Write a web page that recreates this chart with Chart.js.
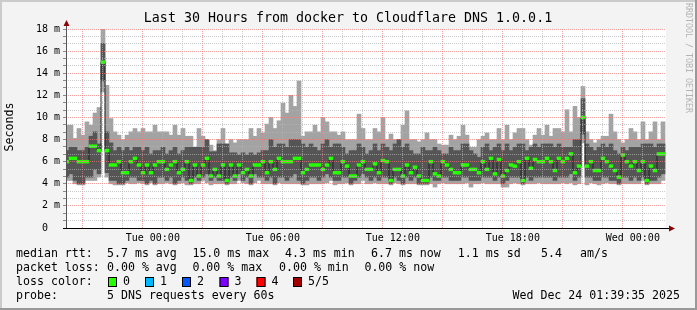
<!DOCTYPE html>
<html><head><meta charset="utf-8">
<script src="https://cdn.jsdelivr.net/npm/chart.js@4/dist/chart.umd.min.js"></script>
<style>html,body{margin:0;padding:0;background:#f3f3f3;overflow:hidden}canvas{display:block}</style>
</head><body>
<canvas id="c" width="697" height="310"></canvas>
<script>
// ---- data (ms), one value per 12-minute step, oldest first ----
const medianMs = [
6.0,6.3,6.3,6.0,6.0,6.0,7.4,7.4,7.0,15.0,
7.0,5.7,5.7,6.0,5.0,5.0,6.0,6.3,5.7,5.0,
5.7,5.0,5.7,6.0,6.0,5.3,5.7,6.0,5.0,5.3,
6.0,4.3,5.7,4.7,5.7,6.3,4.7,5.3,4.7,5.7,
4.3,5.7,4.7,5.7,5.0,5.3,4.7,5.7,5.7,6.0,
5.0,6.0,5.3,6.3,6.0,6.0,6.0,6.3,6.3,5.0,
5.3,5.7,5.7,5.7,5.3,5.7,6.3,5.0,5.0,6.0,
5.6,4.7,4.7,5.7,6.0,5.3,5.3,5.8,5.0,6.1,
6.0,4.3,5.3,5.3,4.7,5.7,5.0,5.5,4.7,4.3,
4.3,6.0,4.9,4.7,6.0,5.7,5.3,5.0,5.0,5.7,
5.7,5.3,5.3,5.0,6.0,5.3,6.3,4.9,6.2,4.7,
5.2,5.7,5.6,6.0,4.3,6.3,5.4,6.2,6.0,6.0,
6.3,6.0,5.2,6.3,6.0,6.3,6.7,5.0,5.6,10.0,
5.6,6.0,5.2,5.2,6.3,6.0,5.6,5.2,4.6,6.6,
6.0,5.6,6.0,5.2,6.0,4.3,5.6,5.2,6.7,6.7];
const maxMs = [
9.3,9.3,8.1,9.0,8.4,9.6,9.3,10.4,10.9,18.0,
12.9,9.9,8.7,8.4,8.0,8.4,8.7,9.0,8.7,9.0,
8.7,8.7,9.3,8.7,8.7,8.7,8.4,9.3,8.4,9.0,
8.3,8.3,7.3,9.0,8.3,8.0,7.5,7.0,8.0,9.0,
7.6,8.0,7.7,8.0,8.0,8.0,9.0,8.3,9.0,8.6,
9.4,10.0,9.0,9.7,11.3,10.4,12.0,11.0,13.3,8.3,
8.7,8.7,9.3,8.7,10.0,9.6,8.7,8.7,8.4,8.7,
8.0,8.0,8.0,10.3,9.0,8.0,8.0,9.0,8.7,10.0,
8.0,8.5,8.0,8.0,9.3,10.6,8.0,8.0,7.8,8.0,
8.6,8.0,8.0,7.6,7.5,7.5,8.4,8.0,8.3,9.3,
8.4,7.3,7.3,8.0,8.3,8.6,8.0,8.0,9.0,8.0,
9.3,8.0,8.6,9.0,9.0,8.0,7.5,8.4,9.0,8.4,
9.3,8.3,9.0,9.0,8.7,10.7,8.7,11.0,10.0,12.8,
8.7,8.0,7.7,8.0,8.3,8.3,10.3,8.7,8.0,7.7,
8.0,9.0,8.7,8.0,9.6,8.0,8.7,9.6,8.0,9.6];
const upperMs = [
7.0,7.3,7.3,7.0,7.0,7.3,8.3,8.7,7.6,16.7,
8.7,7.7,7.0,7.3,7.0,7.3,7.0,7.3,7.3,7.0,
7.3,6.7,7.0,7.0,7.3,6.7,7.0,7.3,6.7,7.0,
7.3,7.3,7.3,7.3,7.3,8.0,6.9,6.9,7.6,7.6,
7.6,6.8,6.8,6.6,6.8,6.6,6.8,6.6,6.8,7.0,
7.0,8.0,7.3,7.6,7.6,7.3,8.0,8.0,8.0,7.6,
7.3,7.6,7.3,7.0,7.6,8.0,7.3,7.6,7.6,7.3,
6.7,7.0,7.0,7.6,7.3,6.7,7.0,7.6,7.0,7.6,
7.3,7.0,7.6,8.0,7.3,7.6,7.0,6.7,6.7,7.3,
7.0,7.0,7.3,7.0,6.7,6.7,7.3,7.0,7.0,7.6,
7.6,7.0,6.7,6.4,7.3,7.6,7.0,7.3,7.6,7.0,
7.6,7.0,7.3,7.6,7.6,7.0,7.3,7.6,7.3,7.6,
7.6,7.6,7.3,7.6,7.3,7.3,7.3,8.0,8.0,11.7,
7.6,7.3,7.0,7.3,7.6,7.3,7.6,7.0,6.7,7.3,
7.0,7.3,7.3,7.3,7.6,7.6,7.6,7.3,7.6,7.6];
const lowerMs = [
4.6,4.9,4.3,4.0,4.0,4.6,4.6,5.3,4.9,13.3,
5.0,4.3,4.3,4.0,4.0,4.3,4.6,4.6,4.3,4.3,
4.0,4.3,4.0,4.6,4.6,4.3,4.6,4.0,4.3,4.6,
4.3,4.0,4.6,4.3,4.6,4.9,4.3,4.6,4.3,4.3,
4.0,4.6,4.3,4.9,4.3,4.6,4.0,4.9,4.6,4.6,
4.3,4.6,4.0,4.6,4.6,4.3,4.6,4.9,4.3,4.0,
4.3,4.6,4.6,4.3,4.6,4.9,4.6,4.3,4.3,4.6,
4.6,4.0,4.3,4.6,4.9,4.6,4.3,4.6,4.3,4.6,
4.6,4.0,4.6,4.3,4.0,4.6,4.3,4.6,4.0,4.0,
4.0,4.6,4.3,4.3,4.6,4.6,4.3,4.3,4.3,4.6,
4.6,4.3,4.3,4.3,4.6,4.6,4.6,4.3,4.6,4.0,
4.3,4.6,4.6,4.6,4.0,4.6,4.3,4.6,4.6,4.6,
4.6,4.6,4.3,4.6,4.6,4.6,4.9,4.3,4.6,8.5,
4.6,4.6,4.3,4.3,4.6,4.6,4.3,4.3,4.0,4.6,
4.6,4.3,4.6,4.3,4.6,4.0,4.3,4.3,4.6,4.9];
const minMs = [
4.3,4.3,4.0,3.9,3.9,4.3,4.3,4.3,4.6,12.3,
4.6,4.0,3.9,3.9,3.9,4.1,4.0,4.0,4.1,4.0,
3.9,4.1,3.9,4.0,4.0,4.1,4.0,3.9,4.0,4.1,
3.9,3.9,4.0,4.0,4.3,4.1,3.9,4.0,4.0,4.0,
3.9,4.0,4.0,4.3,4.1,4.0,3.9,4.1,4.3,4.0,
4.0,4.0,3.9,4.1,4.0,4.0,4.0,4.0,4.0,3.9,
3.9,4.0,4.0,4.0,4.0,4.1,4.3,3.9,4.0,4.0,
4.1,3.9,4.0,4.0,4.3,4.0,4.0,4.1,4.0,4.0,
4.0,3.9,4.1,4.0,3.9,4.0,4.0,4.0,3.9,3.9,
3.9,4.0,3.7,4.0,4.1,4.0,4.0,4.0,4.0,4.0,
4.1,3.7,4.0,4.0,4.1,4.0,4.0,4.0,4.0,3.7,
3.7,4.0,4.1,4.0,3.9,4.0,4.0,4.0,4.1,4.0,
4.0,4.0,4.0,4.0,4.1,4.0,4.1,3.9,4.0,7.7,
3.9,4.1,4.0,3.9,4.0,4.1,4.0,4.0,3.9,4.0,
4.0,4.0,4.0,4.0,4.3,3.9,4.0,4.0,4.0,4.3];

// ---- time axis (hours after the graph start, Mon 19:39:35) ----
const spanHours = 30;
const stepHours = 0.2;          // 12 min
const firstStepHour = 0.05;     // centre of first step
const stepTimes = medianMs.map((_, i) => firstStepHour + i * stepHours);
const firstFullHour = (60 - 39 - 35 / 60) / 60; // 20:00
const firstClockHour = 20;
const hourTicks = Array.from({length: 30}, (_, k) => firstFullHour + k);
const dayNames = ['Mon', 'Tue', 'Wed'];
const xLabelEveryHours = 6, xMajorEveryHours = 3;

const yMax = 18, yMinorStep = 2 / 3, yMajorStep = 2;
const yTicks = Array.from({length: 28}, (_, k) => k * yMinorStep);

const titleText = 'Last 30 Hours from docker to Cloudflare DNS 1.0.0.1';
const legendRows = [
  [['median rtt:', 16], ['5.7 ms avg', 107], ['15.0 ms max', 192.4], ['4.3 ms min', 285], ['6.7 ms now', 371], ['1.1 ms sd', 457.8], ['5.4', 541], ['am/s', 580]],
  [['packet loss:', 16], ['0.00 % avg', 107], ['0.00 % max', 192.4], ['0.00 % min', 279], ['0.00 % now', 364.4]],
  [['loss color:', 16]],
  [['probe:', 16], ['5 DNS requests every 60s', 107]]
];
const lossColors = [['0', '#26ff00'], ['1', '#00b8ff'], ['2', '#0059ff'], ['3', '#7e00ff'], ['4', '#ff0000'], ['5/5', '#a10000']];
const lossBoxX = [108, 145, 182, 219.5, 256.5, 293];
const stampText = 'Wed Dec 24 01:39:35 2025';

const MONO = '"DejaVu Sans Mono", monospace';
const MAJOR = 'rgba(235,120,120,0.7)', MINOR = 'rgba(180,180,180,0.7)';
const isMult = (v, s) => Math.abs(v / s - Math.round(v / s)) < 1e-6;
const clockOf = (h) => Math.round(firstClockHour + (h - firstFullHour));

const deco = {
  id: 'deco',
  beforeDraw(c) {
    const g = c.ctx, a = c.chartArea;
    g.save();
    g.fillStyle = '#f3f3f3'; g.fillRect(0, 0, 697, 310);
    g.fillStyle = '#ffffff'; g.fillRect(a.left, a.top, a.right - a.left, a.bottom - a.top);
    g.restore();
  },
  afterDraw(c) {
    const g = c.ctx, a = c.chartArea;
    g.save();
    g.fillStyle = '#555555'; g.fillRect(a.left, a.top - 4, 1, a.bottom - a.top + 5);
    g.fillStyle = '#000000'; g.fillRect(a.left - 3, a.bottom, a.right - a.left + 8, 1);
    g.fillStyle = '#8b0000';
    g.beginPath(); g.moveTo(a.left + 0.5, a.top - 9); g.lineTo(a.left - 2.5, a.top - 3); g.lineTo(a.left + 3.5, a.top - 3); g.closePath(); g.fill();
    g.beginPath(); g.moveTo(a.right + 9, a.bottom + 0.5); g.lineTo(a.right + 3, a.bottom - 2.5); g.lineTo(a.right + 3, a.bottom + 3.5); g.closePath(); g.fill();

    g.fillStyle = '#000'; g.textBaseline = 'middle';
    g.font = '13.3px ' + MONO; g.textAlign = 'center';
    g.fillText(titleText, 348, 19);

    g.save(); g.translate(10, 127); g.rotate(-Math.PI / 2);
    g.font = '11.6px ' + MONO; g.fillText('Seconds', 0, 0); g.restore();

    g.save(); g.translate(688, 3); g.rotate(Math.PI / 2); g.textAlign = 'left';
    g.font = '8.3px ' + MONO; g.fillStyle = '#b4b4b4'; g.fillText('RRDTOOL / TOBI OETIKER', 0, 0); g.restore();

    g.font = '11.6px ' + MONO; g.textAlign = 'left'; g.fillStyle = '#000';
    const rowY = [254, 268, 282, 296];
    legendRows.forEach((row, r) => row.forEach(([t, x]) => g.fillText(t, x, rowY[r])));
    lossColors.forEach(([t, col], i) => {
      const bx = lossBoxX[i];
      g.fillStyle = col; g.fillRect(bx, 277, 9, 10);
      g.strokeStyle = '#000'; g.lineWidth = 1; g.strokeRect(bx + 0.5, 277.5, 8, 9);
      g.fillStyle = '#000'; g.fillText(t, bx + 15, 282);
    });
    g.textAlign = 'right'; g.fillText(stampText, 680, 296);

    g.fillStyle = '#cbcbcb'; g.fillRect(0, 0, 697, 2); g.fillRect(0, 0, 2, 310);
    g.fillStyle = '#999999'; g.fillRect(0, 308, 697, 2); g.fillRect(695, 0, 2, 310);
    g.restore();
  }
};

const band = 0.125;
new Chart(document.getElementById('c'), {
  type: 'bar',
  data: {
    datasets: [
      { type: 'bar', label: 'median', order: 0, backgroundColor: '#26ff00',
        data: medianMs.map((m, i) => ({x: stepTimes[i], y: [m - band, m + band]})) },
      { type: 'line', label: 'median line', order: 1, borderColor: '#202020', borderWidth: 1,
        stepped: 'middle', pointRadius: 0, fill: false,
        data: medianMs.map((m, i) => ({x: stepTimes[i], y: m})) },
      { type: 'bar', label: 'inner smoke', order: 2, backgroundColor: '#555555',
        data: lowerMs.map((v, i) => ({x: stepTimes[i], y: [v, upperMs[i]]})) },
      { type: 'bar', label: 'outer smoke', order: 3, backgroundColor: '#a3a3a3',
        data: minMs.map((v, i) => ({x: stepTimes[i], y: [v, maxMs[i]]})) }
    ]
  },
  options: {
    responsive: false, animation: false, devicePixelRatio: 1,
    events: [],
    datasets: { bar: { grouped: false, barPercentage: 1, categoryPercentage: 1, borderWidth: 0 } },
    layout: { padding: { left: 0, right: 31, top: 29, bottom: 62 } },
    plugins: { legend: { display: false }, tooltip: { enabled: false }, title: { display: false } },
    scales: {
      x: {
        type: 'linear', min: 0, max: spanHours, offset: false,
        afterBuildTicks: s => { s.ticks = hourTicks.map(v => ({value: v})); },
        afterFit: s => { s.height = 20; },
        ticks: {
          autoSkip: false, maxRotation: 0, minRotation: 0, padding: 4, color: '#000',
          font: { family: MONO, size: 10 },
          callback: (v) => {
            const ch = clockOf(v);
            if (ch % xLabelEveryHours) return '';
            const hh = ch % 24;
            return dayNames[Math.floor(ch / 24)] + ' ' + String(hh).padStart(2, '0') + ':00';
          }
        },
        grid: {
          z: 1, drawTicks: false, lineWidth: 1,
          color: ctx => !ctx.tick ? 'rgba(0,0,0,0)' : ((clockOf(ctx.tick.value) % xMajorEveryHours === 0) ? MAJOR : MINOR)
        },
        border: { display: false, dash: [1, 1] }
      },
      y: {
        type: 'linear', min: 0, max: yMax,
        afterBuildTicks: s => { s.ticks = yTicks.map(v => ({value: v})); },
        afterFit: s => { s.width = 66; },
        ticks: {
          autoSkip: false, padding: 3, color: '#000', font: { family: MONO, size: 10 },
          callback: (v) => {
            if (!isMult(v, yMajorStep)) return '';
            const n = Math.round(v);
            return n === 0 ? ' 0  ' : String(n).padStart(2, ' ') + ' m';
          }
        },
        grid: {
          z: 1, drawTicks: true, tickLength: 3, tickColor: '#8a8a8a', lineWidth: 1,
          color: ctx => !ctx.tick ? 'rgba(0,0,0,0)' : (isMult(ctx.tick.value, yMajorStep) ? MAJOR : MINOR)
        },
        border: { display: false, dash: [1, 1] }
      }
    }
  },
  plugins: [deco]
});
</script>
</body></html>
